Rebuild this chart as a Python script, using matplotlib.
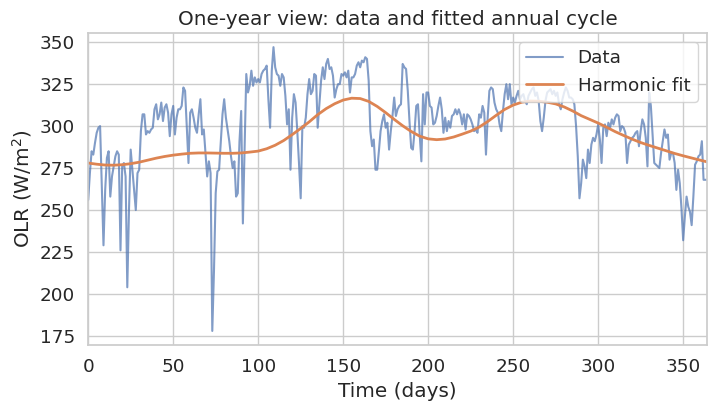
import numpy as np
import matplotlib
matplotlib.use("Agg")
import matplotlib.pyplot as plt
import seaborn as sns

# daily OLR values (W/m^2), day 0..364
olr = [
    256, 272, 285, 283, 290, 296, 299, 300, 265, 229,
    262, 281, 285, 258, 270, 276, 282, 285, 283, 226,
    276, 278, 270, 204, 250, 286, 274, 262, 250, 272,
    274, 297, 307, 307, 295, 297, 296, 298, 299, 310,
    313, 304, 307, 314, 303, 311, 313, 308, 294, 307,
    312, 295, 305, 310, 310, 312, 323, 321, 300, 278,
    308, 310, 305, 299, 296, 307, 316, 295, 298, 284,
    270, 279, 272, 178, 214, 260, 273, 274, 291, 307,
    316, 305, 298, 291, 282, 275, 279, 258, 260, 291,
    309, 242, 287, 331, 320, 324, 333, 324, 329, 326,
    328, 326, 331, 333, 334, 336, 316, 299, 333, 347,
    335, 331, 330, 324, 331, 329, 318, 301, 310, 274,
    305, 319, 314, 297, 278, 257, 300, 299, 305, 319,
    328, 319, 321, 331, 330, 299, 313, 327, 335, 328,
    337, 340, 334, 335, 330, 317, 322, 325, 325, 331,
    330, 332, 329, 333, 320, 329, 329, 331, 336, 338,
    335, 339, 338, 341, 340, 327, 297, 288, 292, 274,
    274, 285, 297, 303, 307, 299, 302, 286, 297, 306,
    317, 306, 310, 312, 313, 337, 335, 334, 321, 303,
    287, 286, 297, 312, 313, 295, 279, 319, 301, 320,
    320, 312, 311, 301, 302, 306, 312, 317, 310, 296,
    305, 297, 303, 299, 306, 307, 310, 307, 310, 307,
    301, 307, 298, 307, 306, 304, 301, 297, 298, 296,
    307, 305, 312, 308, 283, 305, 321, 323, 322, 314,
    310, 308, 301, 297, 309, 319, 325, 316, 325, 313,
    317, 314, 318, 321, 316, 318, 319, 315, 313, 318,
    320, 322, 323, 318, 320, 315, 303, 297, 305, 315,
    320, 321, 322, 319, 321, 318, 320, 313, 310, 316,
    320, 323, 321, 317, 317, 316, 313, 300, 282, 257,
    266, 280, 276, 269, 286, 278, 289, 293, 291, 295,
    301, 292, 278, 299, 301, 294, 302, 299, 304, 301,
    305, 307, 306, 297, 300, 299, 296, 278, 289, 291,
    293, 294, 296, 297, 288, 297, 304, 301, 293, 276,
    320, 312, 295, 278, 277, 276, 275, 284, 291, 298,
    293, 295, 280, 284, 284, 278, 262, 274, 266, 251,
    232, 246, 258, 252, 249, 241, 258, 277, 279, 282,
    283, 291, 268, 268, 268,
]
days = np.arange(len(olr))

# fitted annual cycle, every 5 days
fit_days = list(range(0, 365, 5)) + [364]
fit_vals = [
    278.0, 277.3, 276.8, 276.7, 277.0, 277.6, 278.5, 279.7, 280.9, 281.9,
    282.7, 283.3, 283.8, 284.0, 284.0, 283.9, 283.8, 283.8, 284.0, 284.5,
    285.1, 286.5, 288.6, 291.4, 294.9, 298.6, 302.5, 306.8, 310.4, 313.3,
    315.5, 316.6, 316.4, 314.7, 311.7, 308.0, 304.0, 300.2, 296.8, 294.0,
    292.4, 291.9, 292.3, 293.5, 295.2, 297.0, 299.4, 302.7, 306.4, 309.9,
    312.5, 314.2, 314.9, 314.8, 314.2, 313.2, 311.4, 309.0, 306.2, 304.0,
    301.8, 299.3, 296.7, 294.4, 292.2, 290.2, 288.5, 286.9, 285.3, 283.7,
    282.3, 281.0, 279.7, 278.7,
]

sns.set_theme(style="whitegrid", font_scale=1.2)

fig, ax = plt.subplots(figsize=(7.17, 4.07), dpi=100)
ax.plot(days, olr, color="#4C72B0", alpha=0.7, lw=1.5, label="Data")
ax.plot(fit_days, fit_vals, color="#DD8452", lw=2, label="Harmonic fit")
ax.set_xlim(0, 364)
ax.set_xlabel("Time (days)")
ax.set_ylabel("OLR (W/m$^2$)")
ax.set_title("One-year view: data and fitted annual cycle")
ax.legend(loc="upper right")

fig.subplots_adjust(left=0.123, right=0.986, top=0.919, bottom=0.152)
fig.savefig("out.png")
